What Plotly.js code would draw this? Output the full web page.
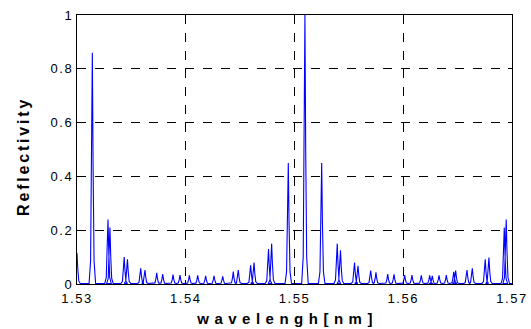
<!DOCTYPE html>
<html>
<head>
<meta charset="utf-8">
<script src="https://cdn.plot.ly/plotly-3.0.1.min.js"></script>
<style>
  html, body { margin: 0; padding: 0; background: #fff; }
  #chart { width: 531px; height: 329px; }
  g.annotation[data-index="0"] text { letter-spacing: 5.5px; }
  g.annotation[data-index="1"] text { letter-spacing: 2.8px; }
  .xtick text, .ytick text { letter-spacing: 1.6px; }
</style>
</head>
<body>
<div id="chart"></div>
<script>
// Peak centres (wavelength) and peak reflectivity
const peakWl = [1.53000, 1.53141, 1.53285, 1.53303, 1.53434, 1.53464, 1.53586, 1.53625, 1.53733, 1.53788,
  1.53883, 1.53947, 1.54033, 1.54110, 1.54183, 1.54260, 1.54340, 1.54437, 1.54483, 1.54597,
  1.54628, 1.54761, 1.54790, 1.54943, 1.55096, 1.55250, 1.55393, 1.55423, 1.55552, 1.55584,
  1.55701, 1.55749, 1.55857, 1.55915, 1.56013, 1.56080, 1.56166, 1.56243, 1.56267, 1.56329,
  1.56396, 1.56464, 1.56482, 1.56586, 1.56635, 1.56754, 1.56788, 1.56929, 1.56947];
const peakR = [0.115, 0.86, 0.24, 0.21, 0.100, 0.092, 0.058, 0.052, 0.042, 0.037,
  0.035, 0.033, 0.032, 0.032, 0.030, 0.030, 0.028, 0.046, 0.052, 0.070,
  0.080, 0.130, 0.150, 0.45, 1.00, 0.45, 0.150, 0.125, 0.080, 0.068,
  0.050, 0.043, 0.037, 0.036, 0.033, 0.033, 0.032, 0.032, 0.030, 0.032,
  0.033, 0.045, 0.050, 0.052, 0.058, 0.092, 0.098, 0.21, 0.24];
const xTicks = [1.53, 1.54, 1.55, 1.56, 1.57];
const xTickText = ['1.53', '1.54', '1.55', '1.56', '1.57'];
const yTicks = [0, 0.2, 0.4, 0.6, 0.8, 1];
const yTickText = ['0', '0.2', '0.4', '0.6', '0.8', '1'];
const xTitle = 'wavelengh[nm]';
const yTitle = 'Reflectivity';

// line shape of each narrow reflection peak (rendering only)
const halfBase = 0.0003, halfFoot = 0.00016, halfMid = 0.00007;
const xs = [], ys = [];
for (let i = 0; i < peakWl.length; i++) {
  const c = peakWl[i], h = peakR[i];
  xs.push(c - halfBase, c - halfFoot, c - halfMid, c, c + halfMid, c + halfFoot, c + halfBase);
  ys.push(0.002, 0.1 * h, 0.5 * h, h, 0.5 * h, 0.1 * h, 0.002);
}
xs.push(1.5700); ys.push(0.002);

const trace = {
  x: xs, y: ys, type: 'scatter', mode: 'lines',
  line: { color: '#0000ff', width: 1.1 },
  hoverinfo: 'skip'
};

const layout = {
  width: 531, height: 329,
  margin: { l: 77, r: 19, t: 15, b: 45 },
  paper_bgcolor: '#ffffff', plot_bgcolor: '#ffffff',
  showlegend: false,
  font: { family: 'Liberation Sans, Arial, sans-serif', size: 13, color: '#000' },
  xaxis: {
    range: [1.53, 1.57], tickvals: xTicks, ticktext: xTickText,
    showgrid: true, gridcolor: '#000', griddash: 'dash', gridwidth: 1,
    showline: true, mirror: 'allticks', linecolor: '#000', linewidth: 1,
    ticks: 'inside', ticklen: 4, tickcolor: '#000', zeroline: false,
    tickfont: { size: 13 }, ticklabelstandoff: 2
  },
  yaxis: {
    range: [0, 1], tickvals: yTicks, ticktext: yTickText,
    showgrid: true, gridcolor: '#000', griddash: 'dash', gridwidth: 1,
    showline: true, mirror: 'allticks', linecolor: '#000', linewidth: 1,
    ticks: 'inside', ticklen: 4, tickcolor: '#000', zeroline: false,
    tickfont: { size: 13 }
  },
  annotations: [
    { text: xTitle, xref: 'paper', yref: 'paper', x: 0.483, y: -0.127,
      xanchor: 'center', yanchor: 'middle', showarrow: false,
      font: { size: 15, weight: 'bold', color: '#000' } },
    { text: yTitle, xref: 'paper', yref: 'paper', x: -0.124, y: 0.472,
      xanchor: 'center', yanchor: 'middle', showarrow: false, textangle: -90,
      font: { size: 16, weight: 'bold', color: '#000' } }
  ]
};

Plotly.newPlot('chart', [trace], layout, { displayModeBar: false, staticPlot: true });
</script>
</body>
</html>
